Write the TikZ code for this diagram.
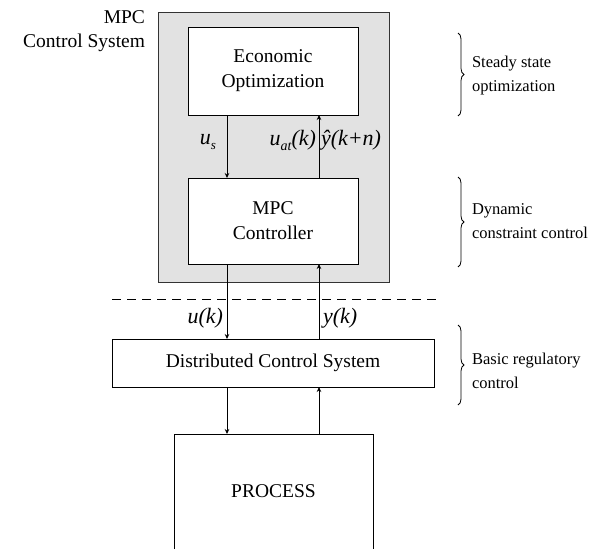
\documentclass[tikz,border=0pt]{standalone}
\usepackage{fontspec}
\setmainfont{Liberation Serif}
\usetikzlibrary{arrows.meta,decorations.pathreplacing}
\definecolor{panelgrey}{HTML}{E2E2E2}
\definecolor{linegrey}{HTML}{333333}
\begin{document}
\begin{tikzpicture}[x=1pt,y=-1pt,
  every node/.style={inner sep=0pt, outer sep=0pt},
  blockbox/.style={draw=black, fill=white, line width=0.8pt},
  boxtext/.style={font=\rmfamily\fontsize{19.5}{25}\selectfont, align=center},
  sidetext/.style={font=\rmfamily\fontsize{16.5}{24}\selectfont, align=left, anchor=west},
  sigtext/.style={font=\rmfamily\fontsize{22}{24}\selectfont\itshape},
  arr/.style={line width=0.8pt, -{Stealth[length=5pt,width=4.5pt]}},
  bracestyle/.style={line width=0.8pt, decorate, decoration={brace, amplitude=6pt}}]
\useasboundingbox (0,0) rectangle (602,549);
% grey panel
\node[draw=linegrey, fill=panelgrey, line width=0.8pt, minimum width=231pt, minimum height=270pt] (panel) at (273.5,147) {};
\node[font=\rmfamily\fontsize{19.5}{24}\selectfont, align=right, anchor=north east] (paneltitle) at (145,11) {MPC\\Control System};
% blocks
\node[blockbox, boxtext, minimum width=170pt, minimum height=88pt] (econ) at (273,71) {Economic\\Optimization};
\node[blockbox, boxtext, minimum width=170pt, minimum height=86pt] (mpc) at (273,221) {MPC\\Controller};
\node[blockbox, boxtext, minimum width=322pt, minimum height=48pt] (dcs) at (273,363) {Distributed Control System};
\node[boxtext, minimum width=199pt, minimum height=115pt, anchor=north] (proc) at (273.5,434) {PROCESS};
\draw[line width=0.8pt] (proc.south west) -- (proc.north west) -- (proc.north east) -- (proc.south east);
% columns of the signal lines
\coordinate (cl) at (227,0);
\coordinate (cr) at (319,0);
% arrows
\draw[arr] (econ.south -| cl) -- (mpc.north -| cl);
\draw[arr] (mpc.north -| cr) -- (econ.south -| cr);
\draw[arr] (mpc.south -| cl) -- (dcs.north -| cl);
\draw[arr] (dcs.north -| cr) -- (mpc.south -| cr);
\draw[arr] (dcs.south -| cl) -- (proc.north -| cl);
\draw[arr] (proc.north -| cr) -- (dcs.south -| cr);
% dashed separator
\coordinate (dl) at (112,299);
\coordinate (dr) at (436,299);
\draw[line width=0.8pt, dash pattern=on 9pt off 6pt] (dl) -- (dr);
% signal labels
\node[sigtext] (us) at (208,142) {u\raisebox{-5pt}{\fontsize{13}{13}\selectfont s}};
\node[sigtext, anchor=east] (uat) at (316,140) {u\raisebox{-5pt}{\fontsize{14}{14}\selectfont at}(k)};
\node[sigtext, anchor=west] (yhat) at (321,140) {ŷ(k+n)};
\node[sigtext, anchor=east] (uk) at (223,318) {u(k)};
\node[sigtext, anchor=west] (yk) at (323,318) {y(k)};
% braces and side labels
\coordinate (b1t) at (458,33);
\coordinate (b1b) at (458,116);
\draw[bracestyle] (b1t) -- (b1b);
\node[sidetext] (ss) at (472,76) {Steady state\\optimization};
\coordinate (b2t) at (458,177);
\coordinate (b2b) at (458,267);
\draw[bracestyle] (b2t) -- (b2b);
\node[sidetext] (dyn) at (472,221) {Dynamic\\constraint control};
\coordinate (b3t) at (458,325);
\coordinate (b3b) at (458,405);
\draw[bracestyle] (b3t) -- (b3b);
\node[sidetext] (basic) at (472,371) {Basic regulatory\\control};
\end{tikzpicture}
\end{document}
